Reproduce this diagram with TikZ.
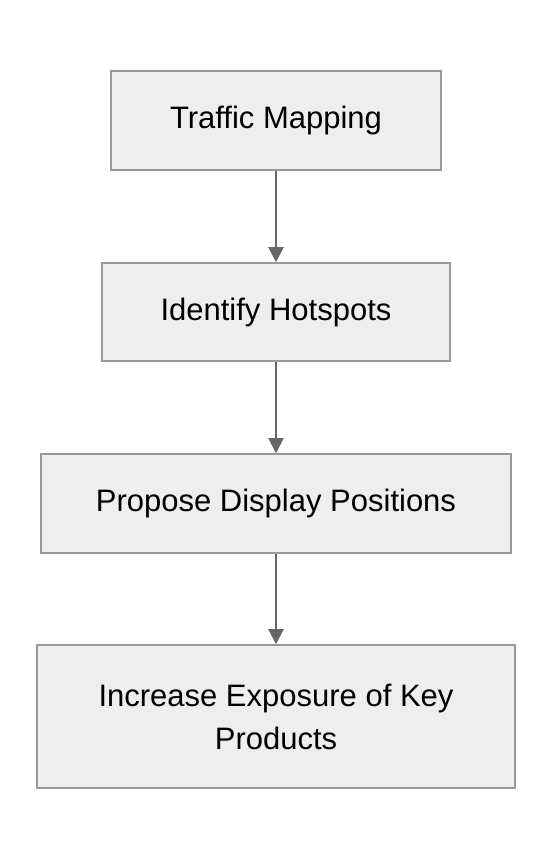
\documentclass[tikz,border=0pt]{standalone}
\usepackage{fontspec}
\setmainfont{Liberation Sans}
\usetikzlibrary{arrows.meta}
\definecolor{boxfill}{HTML}{EEEEEE}
\definecolor{boxline}{HTML}{999999}
\definecolor{arrowc}{HTML}{666666}
\tikzset{
  flowbox/.style={draw=boxline, fill=boxfill, line width=1.5pt, rectangle, inner sep=0pt, align=center,
    font=\fontsize{31}{43}\selectfont, text=black},
  flowarrow/.style={draw=arrowc, line width=2pt, -{Triangle[length=15pt,width=15pt]}}
}
\begin{document}
\begin{tikzpicture}[x=1pt,y=1pt]
\useasboundingbox (0,0) rectangle (552,860);
\node[flowbox, minimum width=330pt, minimum height=99pt] (a) at (276,739.5) {Traffic Mapping};
\node[flowbox, minimum width=348pt, minimum height=98pt] (b) at (276,548) {Identify Hotspots};
\node[flowbox, minimum width=470pt, minimum height=99pt] (c) at (276,356.5) {Propose Display Positions};
\node[flowbox, minimum width=478pt, minimum height=143pt] (d) at (276,143.5) {Increase Exposure of Key\\Products};
\draw[flowarrow] (a) -- (b);
\draw[flowarrow] (b) -- (c);
\draw[flowarrow] (c) -- (d);
\end{tikzpicture}
\end{document}
